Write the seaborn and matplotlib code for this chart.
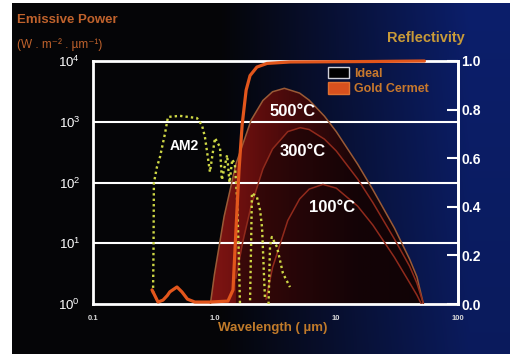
import matplotlib
matplotlib.use("Agg")
import numpy as np
import pandas as pd
import matplotlib.pyplot as plt
import seaborn as sns
from matplotlib.patches import Patch
from matplotlib.ticker import NullLocator
from matplotlib.colors import LinearSegmentedColormap

# ---------------- data ----------------
bb500_wl = [0.9, 1.0, 1.2, 1.5, 2.0, 2.5, 3.0, 3.75, 5, 6, 8, 10, 15, 20, 30, 40, 46, 52]
bb500_E = [0.66, 3.1, 27.6, 201, 1063, 2241, 3120, 3553, 2964, 2265, 1235, 689, 200, 76, 17.9, 5.5, 2.8, 1.0]

bb300_wl = [1.5, 1.7, 2.0, 2.5, 3.0, 4.0, 5.06, 6, 8, 10, 15, 20, 30, 40, 46, 52]
bb300_E = [2.65, 10.1, 41.3, 167, 357, 688, 799, 744, 517, 331, 114, 46.6, 11.8, 4.2, 2.2, 1.0]

bb100_wl = [2.65, 3.0, 4, 5, 6, 7.77, 10, 15, 20, 30, 40, 46, 50]
bb100_E = [1.2, 4.0, 23.7, 53.5, 77.9, 93, 80.8, 40.8, 19.9, 5.9, 2.25, 1.4, 1.0]

am2_wl = [0.313, 0.316, 0.318, 0.337, 0.357, 0.393, 0.415, 0.52, 0.718, 0.789, 0.835,
          0.918, 1.01, 1.11, 1.15, 1.27, 1.33, 1.40, 1.47, 1.53, 1.58, 1.62,
          1.96, 2.0, 2.03, 2.23, 2.37, 2.46, 2.55, 2.6,
          2.78, 2.86, 2.96, 3.26, 3.65, 4.17]
am2_E = [1.5, 8.7, 98, 180, 263, 650, 1200, 1250, 1150, 880, 562,
         149, 540, 382, 110, 283, 100, 240, 200, 60, 8, 1.0,
         1.15, 10, 67, 58, 35, 18, 3, 1.2,
         1.0, 9, 12.7, 8.7, 3.2, 1.9]
am2_band = [0] * 22 + [1] * 8 + [2] * 6

refl_wl = [0.307, 0.344, 0.378, 0.41, 0.43, 0.492, 0.54, 0.6, 0.69, 0.918, 1.29, 1.42,
           1.50, 1.59, 1.69, 1.82, 1.96, 2.23, 2.70, 4.17, 20, 53]
refl_R = [0.058, 0.008, 0.016, 0.035, 0.05, 0.07, 0.05, 0.02, 0.008, 0.008, 0.012, 0.058,
          0.30, 0.55, 0.74, 0.88, 0.94, 0.975, 0.99, 0.996, 0.998, 1.0]

x_ticks = [0.1, 1, 10, 100]
x_labels = ["0.1", "1.0", "10", "100"]
y_ticks = [1, 10, 100, 1000, 10000]
y_labels = [r"$10^{0}$", r"$10^{1}$", r"$10^{2}$", r"$10^{3}$", r"$10^{4}$"]
r_ticks = [0.0, 0.2, 0.4, 0.6, 0.8, 1.0]
r_labels = ["0.0", "0.2", "0.4", "0.6", "0.8", "1.0"]

# ---------------- style ----------------
sns.set_theme(style="dark")
plt.rcParams['font.family'] = ['Liberation Sans', 'DejaVu Sans']
plt.rcParams['mathtext.default'] = 'regular'

W, H = 516, 354
fig = plt.figure(figsize=(W / 100, H / 100), dpi=100, facecolor='white')


def fx(px):
    return px / W


def fy(py):
    return 1 - py / H


# background gradient (black -> navy)
bg = fig.add_axes([fx(12), 0, fx(510) - fx(12), fy(3)])
bg.set_axis_off()
xn = np.linspace(0, 1, 300)[None, :]
yn = np.linspace(0, 1, 100)[:, None]
t = np.clip((xn - 0.42) / 0.5, 0, 1) * (0.85 + 0.15 * yn)
black = np.array([0.02, 0.02, 0.03])
navy = np.array([0.045, 0.12, 0.42])
img = black[None, None, :] * (1 - t[..., None]) + navy[None, None, :] * t[..., None]
bg.imshow(img, origin='lower', extent=[0, 1, 0, 1], aspect='auto')
bg.set_xlim(0, 1)
bg.set_ylim(0, 1)

# main axes
ax = fig.add_axes([fx(92.7), fy(304), fx(458) - fx(92.7), fy(61) - fy(304)])
ax.set_facecolor('none')
ax.set_xscale('log')
ax.set_yscale('log')
ax.set_xlim(0.1, 100)
ax.set_ylim(1, 1e4)
ax.set_autoscale_on(False)

# red fill under 500 C curve with horizontal gradient
poly = ax.fill_between(bb500_wl, 1, bb500_E, facecolor='none', edgecolor='none', zorder=1)
cmap = LinearSegmentedColormap.from_list(
    'fill', [(0, '#7e1412'), (0.333, '#7e1412'), (0.47, '#5a0c0c'), (0.6, '#36080a'),
             (0.73, '#180508'), (1, '#0e0608')])
grad = np.linspace(0, 1, 400)[None, :]
im = ax.imshow(grad, cmap=cmap, extent=[0, 1, 0, 1], transform=ax.transAxes,
               aspect='auto', zorder=1, vmin=0, vmax=1)
im.set_clip_path(poly.get_paths()[0], transform=ax.transData)
# darker zone under the 300 C curve
ax.fill_between(bb300_wl, 1, bb300_E, facecolor='#100305', edgecolor='none', alpha=0.55, zorder=1.5)
ax.set_xlim(0.1, 100)
ax.set_ylim(1, 1e4)

# gridlines
for gy in [10, 100, 1000]:
    ax.axhline(gy, color='white', lw=1.5, zorder=3)

# blackbody curves
for wl, E, col in [(bb500_wl, bb500_E, '#9a5a36'), (bb300_wl, bb300_E, '#902a1c'),
                   (bb100_wl, bb100_E, '#902a1c')]:
    sns.lineplot(data=pd.DataFrame({'wl': wl, 'E': E}), x='wl', y='E', ax=ax,
                 color=col, lw=1.1, sort=False, estimator=None, zorder=4)

# AM2 spectrum
am2 = pd.DataFrame({'wl': am2_wl, 'E': am2_E, 'band': am2_band})
sns.lineplot(data=am2, x='wl', y='E', units='band', estimator=None, sort=False, ax=ax,
             color='#cfd845', lw=1.7, linestyle=(0, (1, 1.3)), zorder=5)

ax.set_xlim(0.1, 100)
ax.set_ylim(1, 1e4)
ax.set_xlabel('')
ax.set_ylabel('')
ax.set_xticks(x_ticks)
ax.set_xticklabels(x_labels)
ax.set_yticks(y_ticks)
ax.set_yticklabels(y_labels)
ax.xaxis.set_minor_locator(NullLocator())
ax.yaxis.set_minor_locator(NullLocator())
ax.tick_params(axis='y', length=0, pad=9, labelsize=9.5, labelcolor='white')
ax.tick_params(axis='x', length=0, pad=8, labelsize=5.5, labelcolor='#d8d8d8')
for lab in ax.get_xticklabels():
    lab.set_fontweight('bold')
for sp in ax.spines.values():
    sp.set_color('white')
    sp.set_linewidth(2)
ax.grid(False)

# reflectivity axis
ax2 = ax.twinx()
ax2.set_facecolor('none')
ax2.set_ylim(0, 1)
sns.lineplot(data=pd.DataFrame({'wl': refl_wl, 'R': refl_R}), x='wl', y='R', ax=ax2,
             color='#e2561c', lw=2.3, sort=False, estimator=None, zorder=6)
ax2.lines[-1].set_clip_on(False)
ax2.set_ylim(0, 1)
ax2.set_xlim(0.1, 100)
ax2.set_ylabel('')
ax2.set_xlabel('')
ax2.set_yticks(r_ticks)
ax2.set_yticklabels(r_labels)
ax2.yaxis.set_minor_locator(NullLocator())
ax2.tick_params(axis='y', direction='in', length=8, width=1.5, color='white',
                labelcolor='white', labelsize=10, pad=2.5)
for lab in ax2.get_yticklabels():
    lab.set_fontweight('bold')
for name, sp in ax2.spines.items():
    if name == 'right':
        sp.set_color('white')
        sp.set_linewidth(2)
    else:
        sp.set_visible(False)
ax2.grid(False)

# legend
handles = [Patch(facecolor='black', edgecolor='#d0d0d8', lw=1.0, label='Ideal'),
           Patch(facecolor='#d8501e', edgecolor='#e07030', lw=1.0, label='Gold Cermet')]
leg = ax2.legend(handles=handles, loc='upper left', bbox_to_anchor=(0.644, 0.975),
                 frameon=False, fontsize=9, handlelength=1.7, handleheight=1.0,
                 handletextpad=0.4, labelspacing=0.2, borderaxespad=0, borderpad=0)
for tx in leg.get_texts():
    tx.set_color('#c8782c')
    tx.set_fontweight('bold')

# text labels
orange = '#c0622c'
fig.text(fx(17), fy(20), 'Emissive Power', color=orange, fontsize=9.5, fontweight='bold',
         ha='left', va='center')
fig.text(fx(17), fy(45), '(W . m\u207b\u00b2 . \u00b5m\u207b\u00b9)', color=orange, fontsize=8.5,
         ha='left', va='center')
fig.text(fx(426), fy(38), 'Reflectivity', color='#c89a38', fontsize=10.5, fontweight='bold',
         ha='center', va='center')
fig.text(fx(273), fy(328), 'Wavelength ( \u00b5m)', color='#c07a2a', fontsize=9.5,
         fontweight='bold', ha='center', va='center')
fig.text(fx(184), fy(146), 'AM2', color='white', fontsize=10, fontweight='bold',
         ha='center', va='center')
fig.text(fx(293), fy(112), '500°C', color='white', fontsize=12, fontweight='bold',
         ha='center', va='center')
fig.text(fx(303), fy(151), '300°C', color='white', fontsize=12, fontweight='bold',
         ha='center', va='center')
fig.text(fx(332), fy(207), '100°C', color='white', fontsize=12, fontweight='bold',
         ha='center', va='center')

fig.savefig('out.png', dpi=100, facecolor='white')
